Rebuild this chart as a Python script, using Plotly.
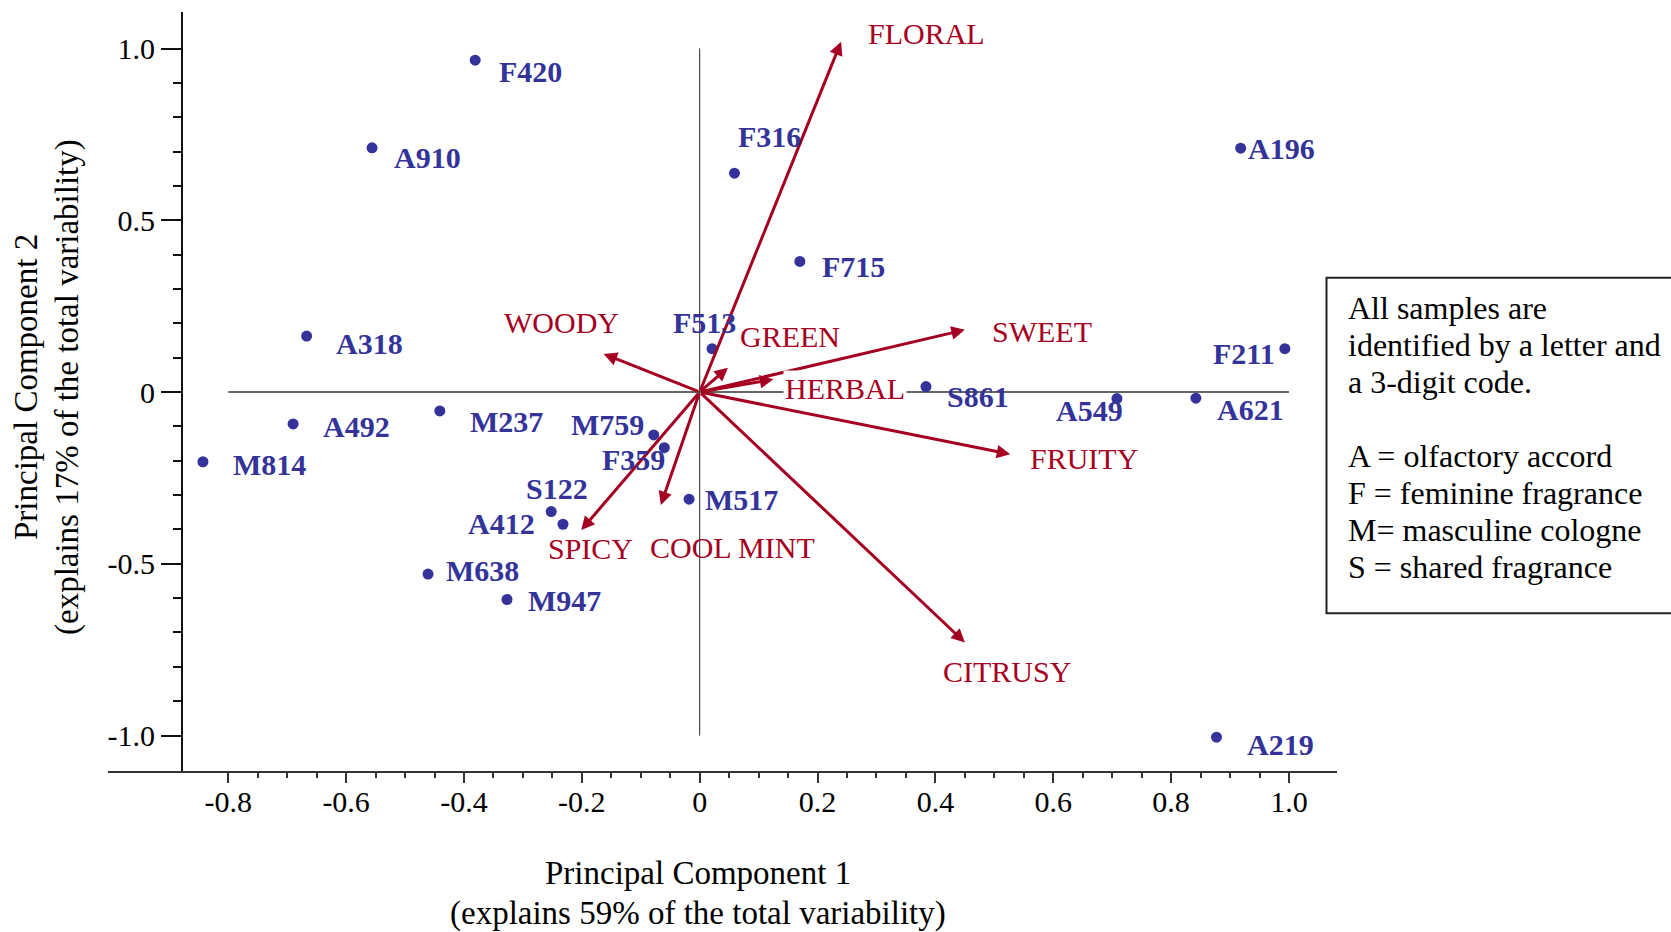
import numpy as np
import plotly.graph_objects as go

# ---- sample scores on the first two principal components ----
sample_ids = ["F420", "A910", "A318", "A492", "M237", "M814", "S122", "A412",
              "M638", "M947", "M517", "M759", "F359", "F513", "F316", "F715",
              "S861", "A549", "A621", "A196", "F211", "A219"]
pc1 = [-0.381, -0.556, -0.667, -0.690, -0.441, -0.843, -0.252, -0.232,
       -0.461, -0.327, -0.018, -0.078, -0.060, 0.021, 0.059, 0.170,
       0.384, 0.708, 0.842, 0.918, 0.993, 0.877]
pc2 = [0.966, 0.711, 0.163, -0.093, -0.055, -0.203, -0.348, -0.385,
       -0.530, -0.604, -0.312, -0.125, -0.162, 0.126, 0.637, 0.380,
       0.016, -0.019, -0.018, 0.710, 0.126, -1.005]

# ---- attribute loadings (arrow tips) ----
attributes = ["FLORAL", "WOODY", "GREEN", "HERBAL", "SWEET", "FRUITY",
              "CITRUSY", "COOL MINT", "SPICY"]
load1 = [0.240, -0.163, 0.048, 0.125, 0.450, 0.527, 0.450, -0.066, -0.201]
load2 = [1.020, 0.111, 0.071, 0.037, 0.181, -0.181, -0.729, -0.329, -0.402]

# ---- axis ticks ----
x_ticks = [-0.8, -0.6, -0.4, -0.2, 0.0, 0.2, 0.4, 0.6, 0.8, 1.0]
x_tick_text = ["-0.8", "-0.6", "-0.4", "-0.2", "0", "0.2", "0.4", "0.6", "0.8", "1.0"]
y_ticks = [-1.0, -0.5, 0.0, 0.5, 1.0]
y_tick_text = ["-1.0", "-0.5", "0", "0.5", "1.0"]

x_title = ["Principal Component 1", "(explains 59% of the total variability)"]
y_title = ["Principal Component 2", "(explains 17% of the total variability)"]
note_lines = ["All samples are", "identified by a letter and", "a 3-digit code.", "",
              "A = olfactory accord", "F = feminine fragrance",
              "M= masculine cologne", "S = shared fragrance"]

# ---- styling ----
BLUE = "#333399"
RED = "#A50021"
SERIF = "Liberation Serif, Times New Roman, serif"
W, H = 1671, 932
PLOT_L, PLOT_R, PLOT_T, PLOT_B = 108, 1337, 12, 771
X_RANGE = [-1.0041, 1.0815]
Y_RANGE = [-1.1033, 1.1063]
TEXT_PAD = 2  # annotation box padding compensation (px)

# label placement: (anchor, dx px right, dy px down) relative to the point
sample_label_place = {
    "F420": ("left", 24, 11), "A910": ("left", 22, 10), "A318": ("left", 29, 7),
    "A492": ("left", 30, 3), "M237": ("left", 30, 11), "M814": ("left", 30, 3),
    "S122": ("left", -25, -23), "A412": ("right", -28, -1), "M638": ("left", 18, -4),
    "M947": ("left", 21, 1), "M517": ("left", 16, 0), "M759": ("right", -10, -10),
    "F359": ("right", 1, 12), "F513": ("left", -39, -26), "F316": ("left", 4, -37),
    "F715": ("left", 22, 5), "S861": ("left", 21, 10), "A549": ("left", -61, 12),
    "A621": ("left", 21, 11), "A196": ("left", 7, 0), "F211": ("right", -10, 5),
    "A219": ("left", 31, 7),
}
# loading label placement: left edge offset from the arrow tip (dx, dy down)
attr_label_place = {
    "FLORAL": (27, -8), "WOODY": (-100, -31), "GREEN": (12, -31), "HERBAL": (12, 9),
    "SWEET": (27, 2), "FRUITY": (20, 4), "CITRUSY": (-22, 29),
    "COOL MINT": (-11, 42), "SPICY": (-33, 18),
}


def paper_x(px):
    return (px - PLOT_L) / (PLOT_R - PLOT_L)


def paper_y(py):
    return (PLOT_B - py) / (PLOT_B - PLOT_T)


fig = go.Figure()

fig.add_trace(go.Scatter(
    x=pc1, y=pc2, mode="markers", text=sample_ids,
    marker=dict(color=BLUE, size=11, line=dict(width=0)),
    hoverinfo="text", showlegend=False, cliponaxis=False,
))

shapes = [
    # reference axes through the origin
    dict(type="line", xref="x", yref="y", x0=-0.8, x1=1.0, y0=0, y1=0,
         line=dict(color="#666666", width=2), layer="below"),
    dict(type="line", xref="x", yref="y", x0=0, x1=0, y0=-1.0, y1=1.0,
         line=dict(color="#222222", width=1), layer="below"),
    # note box on the right
    dict(type="rect", xref="paper", yref="paper",
         x0=paper_x(1326.5), x1=paper_x(1690), y0=paper_y(613.3), y1=paper_y(277.7),
         line=dict(color="#222222", width=2), fillcolor="rgba(0,0,0,0)"),
]

annotations = []

# loading arrows
for name, lx, ly in zip(attributes, load1, load2):
    annotations.append(dict(
        x=lx, y=ly, xref="x", yref="y", ax=0, ay=0, axref="x", ayref="y",
        text="", showarrow=True, arrowhead=2, arrowsize=0.9, arrowwidth=3,
        arrowcolor=RED, standoff=0, startstandoff=0,
    ))

# loading labels
for name, lx, ly in zip(attributes, load1, load2):
    dx, dy = attr_label_place[name]
    ann = dict(
        x=lx, y=ly, xref="x", yref="y", text=name, showarrow=False,
        xanchor="left", yanchor="middle", xshift=dx - TEXT_PAD, yshift=-dy,
        font=dict(family=SERIF, size=30, color=RED),
    )
    if name == "HERBAL":
        ann["bgcolor"] = "white"
        ann["borderpad"] = 1
    annotations.append(ann)

# sample labels
for sid, sx, sy in zip(sample_ids, pc1, pc2):
    anchor, dx, dy = sample_label_place[sid]
    shift = dx - TEXT_PAD if anchor == "left" else dx + TEXT_PAD
    annotations.append(dict(
        x=sx, y=sy, xref="x", yref="y", text="<b>%s</b>" % sid, showarrow=False,
        xanchor=anchor, yanchor="middle", xshift=shift, yshift=-dy,
        font=dict(family=SERIF, size=30, color=BLUE),
    ))

# axis titles
for line, cy in zip(x_title, [873, 913]):
    annotations.append(dict(
        x=paper_x(698), y=paper_y(cy), xref="paper", yref="paper", text=line,
        showarrow=False, xanchor="center", yanchor="middle",
        font=dict(family=SERIF, size=33, color="black"),
    ))
for line, cx in zip(y_title, [26, 67]):
    annotations.append(dict(
        x=paper_x(cx), y=paper_y(387), xref="paper", yref="paper", text=line,
        showarrow=False, xanchor="center", yanchor="middle", textangle=-90,
        font=dict(family=SERIF, size=33, color="black"),
    ))

# note text
for i, line in enumerate(note_lines):
    if not line:
        continue
    annotations.append(dict(
        x=paper_x(1348 - TEXT_PAD), y=paper_y(308 + 37 * i), xref="paper", yref="paper",
        text=line, showarrow=False, xanchor="left", yanchor="middle",
        font=dict(family=SERIF, size=32, color="black"),
    ))

x_minor = [round(v, 2) for v in np.arange(x_ticks[0], x_ticks[-1] + 1e-9, 0.05)]
y_minor = [round(v, 2) for v in np.arange(y_ticks[0], y_ticks[-1] + 1e-9, 0.1)]

fig.update_layout(
    width=W, height=H, autosize=False,
    margin=dict(l=PLOT_L, r=W - PLOT_R, t=PLOT_T, b=H - PLOT_B, pad=0),
    paper_bgcolor="white", plot_bgcolor="white",
    font=dict(family=SERIF, color="black"),
    showlegend=False,
    shapes=shapes, annotations=annotations,
    xaxis=dict(
        range=X_RANGE, showgrid=False, zeroline=False,
        showline=True, linecolor="#333333", linewidth=2,
        ticks="outside", ticklen=10, tickwidth=1.5, tickcolor="#333333",
        tickmode="array", tickvals=x_ticks, ticktext=x_tick_text,
        tickfont=dict(family=SERIF, size=30, color="black"),
        ticklabelstandoff=-7,
        minor=dict(tickmode="array", tickvals=x_minor, ticks="outside",
                   ticklen=5, tickwidth=1.5, tickcolor="#333333", showgrid=False),
        fixedrange=True,
    ),
    yaxis=dict(
        range=Y_RANGE, showgrid=False, zeroline=False,
        anchor="free", position=paper_x(181.7),
        showline=True, linecolor="#111111", linewidth=1.5,
        ticks="outside", ticklen=20, tickwidth=1.5, tickcolor="#111111",
        tickmode="array", tickvals=y_ticks, ticktext=y_tick_text,
        tickfont=dict(family=SERIF, size=30, color="black"),
        minor=dict(tickmode="array", tickvals=y_minor, ticks="outside",
                   ticklen=8, tickwidth=1.5, tickcolor="#111111", showgrid=False),
        fixedrange=True,
    ),
)

fig.write_html("out.html")
